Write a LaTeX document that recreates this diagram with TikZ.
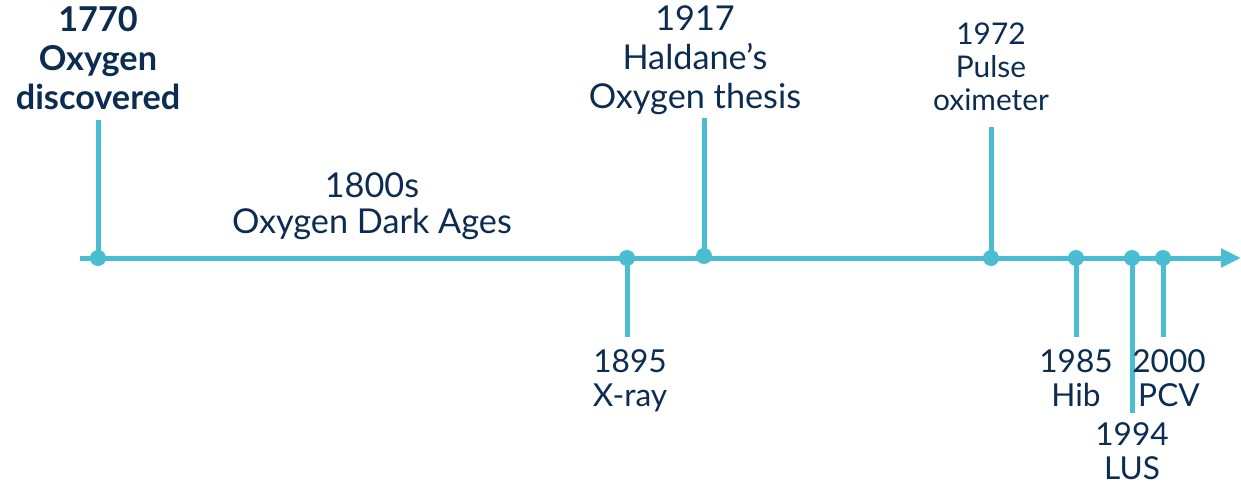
\documentclass[tikz,border=0pt]{standalone}
\usepackage{fontspec}
\setmainfont{Lato}
\usetikzlibrary{positioning,arrows.meta}
\definecolor{lineblue}{HTML}{4BBDD3}
\definecolor{navy}{HTML}{0C2D50}

\begin{document}
\begin{tikzpicture}[x=0.02cm, y=-0.02cm,
			dot/.style={circle, fill=lineblue, inner sep=0pt, minimum size=0.32cm},
			tick/.style={draw=lineblue, line width=0.1cm},
			big/.style={text=navy, align=center, inner sep=0pt, font=\fontsize{19.5}{22.1}\selectfont},
			mid/.style={text=navy, align=center, inner sep=0pt, font=\fontsize{17}{18.8}\selectfont},
			low/.style={text=navy, align=center, inner sep=0pt, font=\fontsize{18}{19.6}\selectfont}]
			\useasboundingbox (0,0) rectangle (1241,487);
			\coordinate (start) at (80,258);
			\coordinate (stop) at (1241,258);
			\draw[tick, -{Triangle[length=0.4cm, width=0.36cm]}] (start) -- (stop);
			% events on the axis
			\node[dot] (d1770) at (98,258) {};
			\node[dot] (d1895) at (627,258) {};
			\node[dot] (d1917) at (704,256) {};
			\node[dot] (d1972) at (991,258) {};
			\node[dot] (d1985) at (1076,258) {};
			\node[dot] (d1994) at (1132,258) {};
			\node[dot] (d2000) at (1163,258) {};
			\coordinate (e1770) at (98,120);
			\coordinate (e1895) at (627,337);
			\coordinate (e1917) at (704,118);
			\coordinate (e1972) at (991,127);
			\coordinate (e1985) at (1076,337);
			\coordinate (e1994) at (1132,413);
			\coordinate (e2000) at (1163,337);
			\foreach \y in {1770,1895,1917,1972,1985,1994,2000}
				\draw[tick] (d\y.center) -- (e\y);
			% labels
			\node[big, font=\fontsize{19.5}{22.1}\selectfont\bfseries] (l1770) [above=0.2cm of e1770] {1770\\Oxygen\\discovered};
			\node[big] (l1917) [above=0.06cm of e1917, xshift=-0.18cm] {1917\\Haldane’s\\Oxygen thesis};
			\node[mid] (l1972) [above=0.32cm of e1972] {1972\\Pulse\\oximeter};
			\node[big, anchor=south, font=\fontsize{19.5}{20.6}\selectfont] (l1800) at (372,240) {1800s\\Oxygen Dark Ages};
			\node[low] (l1895) [below=0.24cm of e1895, xshift=0.06cm] {1895\\X-ray};
			\node[low] (l1985) [below=0.24cm of e1985] {1985\\Hib};
			\node[low] (l1994) [below=0.18cm of e1994] {1994\\LUS};
			\node[low] (l2000) [below=0.24cm of e2000, xshift=0.12cm] {2000\\PCV};
		\end{tikzpicture}
\end{document}
